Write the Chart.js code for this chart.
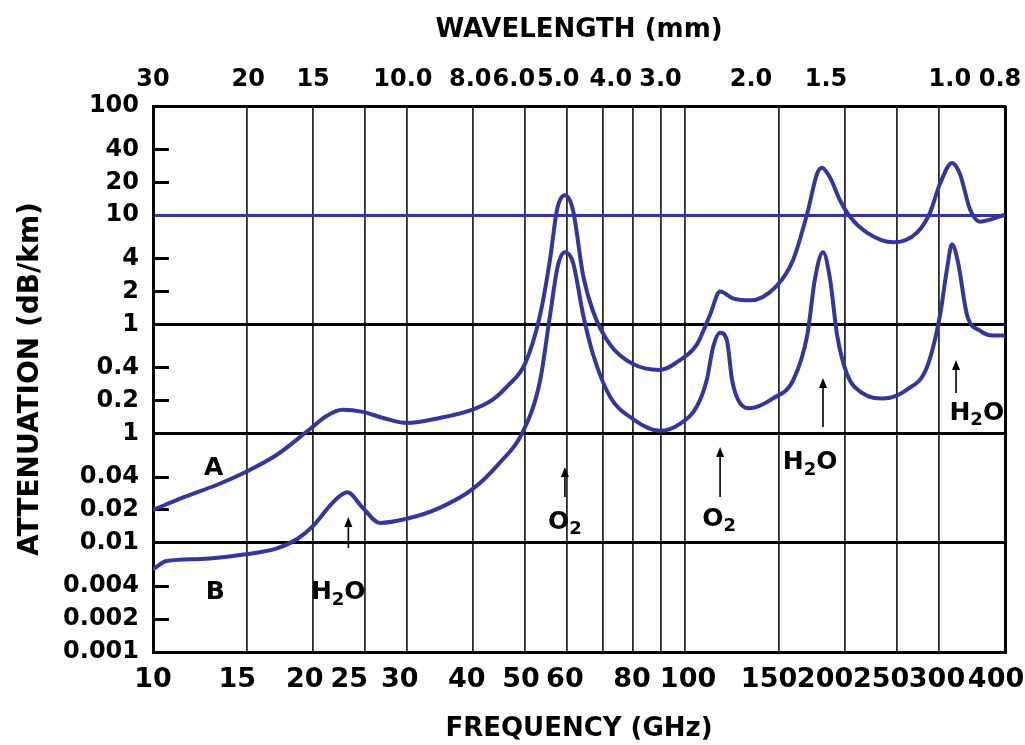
<!DOCTYPE html>
<html>
<head>
<meta charset="utf-8">
<title>Atmospheric attenuation</title>
<script src="https://cdn.jsdelivr.net/npm/chart.js@4.4.1/dist/chart.umd.min.js"></script>
<style>
  html, body { margin: 0; padding: 0; background: #fff; }
  canvas { display: block; }
</style>
</head>
<body>
<canvas id="attChart" width="1025" height="745"></canvas>
<script>
// Curve A (upper) and curve B (lower), frequency in GHz, attenuation in dB/km
const aFreq = [10, 11.4, 13.2, 15.0, 17.1, 19.5, 21.2, 22.7, 24.8, 27.1,
    30.0, 34.6, 40.0, 43.6, 46.3, 50.1, 53.4, 55.8, 57.5, 59.5,
    61.6, 64.4, 67.2, 72.3, 79.9, 89.8, 97.9, 105.4, 111.5, 116.5,
    123.2, 132.6, 149, 160, 170, 177.3, 181.1, 187.5, 195.8, 204.5,
    220, 246.4, 273.3, 289, 302, 318, 329, 344, 359, 375, 400];
const aVal = [0.020, 0.026, 0.034, 0.045, 0.064, 0.105, 0.145, 0.165, 0.158, 0.139,
    0.125, 0.139, 0.167, 0.206, 0.269, 0.44, 1.2, 3.96, 11.2, 15.2,
    11.2, 2.79, 1.32, 0.656, 0.433, 0.383, 0.471, 0.656, 1.22, 2.0,
    1.73, 1.66, 2.27, 3.96, 10.5, 24.0, 27.2, 22.1, 13.7, 9.66,
    6.93, 5.64, 6.93, 10.5, 19.5, 30.1, 24.0, 11.2, 8.71, 9.1, 10.1];

const bFreq = [10, 10.6, 12.3, 14.8, 17.1, 18.7, 20.0, 21.5, 22.5, 23.2,
    24.8, 26.7, 30.0, 34.6, 40.0, 44.9, 49.4, 53.4, 55.8, 57.7,
    59.5, 61.6, 64.4, 67.2, 72.3, 79.9, 89.8, 97.9, 105.4, 110,
    113, 116.5, 120, 122.7, 127, 132.6, 146.5, 160, 170, 175.7,
    181.9, 187.5, 193.3, 201.8, 216.3, 235.9, 261.7, 285.4, 302, 311.2,
    318, 326.3, 339.4, 359, 379.7, 400];
const bVal = [0.0057, 0.0068, 0.0071, 0.0078, 0.0089, 0.0109, 0.0143, 0.0218, 0.027, 0.029,
    0.0209, 0.0152, 0.0166, 0.0209, 0.0313, 0.0542, 0.1, 0.30, 1.22, 3.43,
    4.58, 3.72, 1.22, 0.533, 0.219, 0.136, 0.106, 0.123, 0.178, 0.311,
    0.617, 0.84, 0.713, 0.311, 0.19, 0.171, 0.210, 0.311, 0.806, 2.62,
    4.58, 2.62, 0.806, 0.352, 0.233, 0.210, 0.253, 0.407, 1.22, 3.23,
    5.41, 3.72, 1.22, 0.876, 0.79, 0.79];

// Axis ticks
const xGridFreqs = [10, 15, 20, 25, 30, 40, 50, 60, 70, 80, 90, 100, 150, 200, 250, 300, 400];
const xTickLabels = ['10', '15', '20', '25', '30', '40', '50', '60', '80', '100', '150', '200', '250', '300', '400'];
const xLabelFreqs = [10, 14.4, 19.3, 23.4, 29.1, 38.9, 49.2, 59.5, 79.6, 101.4, 144, 183.5, 233.9, 298, 384.8];
const yTickValues = [0.001, 0.002, 0.004, 0.01, 0.02, 0.04, 0.1, 0.2, 0.4, 1, 2, 4, 10, 20, 40, 100];
const yTickLabels = ['0.001', '0.002', '0.004', '0.01', '0.02', '0.04', '1', '0.2', '0.4', '1', '2', '4', '10', '20', '40', '100'];
const wavelengthLabels = ['30', '20', '15', '10.0', '8.0', '6.0', '5.0', '4.0', '3.0', '2.0', '1.5', '1.0', '0.8'];
const wavelengthFreqs = [10, 15.1, 20.0, 29.5, 39.5, 47.7, 57.8, 72.6, 90.0, 133.2, 184.3, 315, 391.5];

// Labels and arrows on the plot
const noteText = ['A', 'B', 'H₂O', 'O₂', 'O₂', 'H₂O', 'H₂O'];
const noteFreq = [13.0, 13.1, 22.3, 59.5, 116, 172, 354];
const noteVal = [0.0484, 0.00347, 0.00347, 0.0155, 0.0165, 0.0538, 0.154];
const arrowFreq = [23.3, 59.5, 116.5, 181.9, 323.6];
const arrowFrom = [0.00896, 0.0263, 0.0263, 0.115, 0.235];
const arrowTo = [0.0172, 0.0494, 0.0754, 0.323, 0.472];

const blue = '#34359e';
const majorY = [100, 1, 0.1, 0.01, 0.001];

Chart.defaults.font.family = '"DejaVu Sans", sans-serif';
Chart.defaults.font.weight = 'bold';
Chart.defaults.color = '#000';

const bigFont = 'bold 25px "DejaVu Sans"';
const subFont = 'bold 18px "DejaVu Sans"';

// draw a formula like H₂O with a real lowered subscript
function drawFormula(ctx, text, cx, cy) {
    const parts = [...text].map(ch => ch === '₂' ? { t: '2', sub: true } : { t: ch, sub: false });
    let total = 0;
    parts.forEach(p => {
        ctx.font = p.sub ? subFont : bigFont;
        p.w = ctx.measureText(p.t).width;
        total += p.w;
    });
    let x = cx - total / 2;
    parts.forEach(p => {
        ctx.font = p.sub ? subFont : bigFont;
        ctx.fillText(p.t, x, p.sub ? cy + 7 : cy);
        x += p.w;
    });
}

const notesPlugin = {
    id: 'notes',
    afterDatasetsDraw(chart) {
        const { ctx, scales } = chart;
        const x = scales.x, y = scales.y;
        ctx.save();
        ctx.fillStyle = '#000';
        ctx.strokeStyle = '#000';
        ctx.textAlign = 'left';
        ctx.textBaseline = 'middle';
        noteText.forEach((t, i) => {
            drawFormula(ctx, t, x.getPixelForValue(noteFreq[i]), y.getPixelForValue(noteVal[i]));
        });
        ctx.lineWidth = 1.6;
        arrowFreq.forEach((f, i) => {
            const px = x.getPixelForValue(f);
            const y0 = y.getPixelForValue(arrowFrom[i]);
            const y1 = y.getPixelForValue(arrowTo[i]);
            ctx.beginPath();
            ctx.moveTo(px, y0);
            ctx.lineTo(px, y1 + 6);
            ctx.stroke();
            ctx.beginPath();
            ctx.moveTo(px, y1);
            ctx.lineTo(px - 4, y1 + 10);
            ctx.lineTo(px + 4, y1 + 10);
            ctx.closePath();
            ctx.fill();
        });
        ctx.restore();
    }
};

const toPoints = (fs, vs) => fs.map((f, i) => ({ x: f, y: vs[i] }));

// keep the plot frame fixed: no extra room for overhanging tick labels
const noSidePadding = axis => { axis.paddingLeft = 0; axis.paddingRight = 0; };

new Chart(document.getElementById('attChart'), {
    type: 'line',
    data: {
        datasets: [{
            label: 'A',
            data: toPoints(aFreq, aVal),
            borderColor: blue,
            borderWidth: 4,
            pointRadius: 0,
            cubicInterpolationMode: 'monotone',
            fill: false
        }, {
            label: 'B',
            data: toPoints(bFreq, bVal),
            borderColor: blue,
            borderWidth: 4,
            pointRadius: 0,
            cubicInterpolationMode: 'monotone',
            fill: false
        }]
    },
    options: {
        responsive: false,
        animation: false,
        devicePixelRatio: 1,
        layout: { padding: { right: 20 } },
        plugins: {
            legend: { display: false },
            tooltip: { enabled: false }
        },
        scales: {
            x: {
                type: 'logarithmic',
                position: 'bottom',
                min: 10,
                max: 400,
                weight: 0,
                afterBuildTicks: axis => { axis.ticks = xGridFreqs.map(v => ({ value: v })); },
                afterFit: axis => { axis.height = 0; noSidePadding(axis); },
                ticks: { display: false },
                grid: {
                    drawTicks: false,
                    color: ctx => (ctx.tick.value === 10 || ctx.tick.value === 400) ? '#000' : '#2a2a2a',
                    lineWidth: ctx => (ctx.tick.value === 10 || ctx.tick.value === 400) ? 3 : 1.8
                },
                border: { display: true, color: '#000', width: 3 }
            },
            xLabels: {
                type: 'logarithmic',
                position: 'bottom',
                min: 10,
                max: 400,
                weight: 1,
                afterBuildTicks: axis => { axis.ticks = xLabelFreqs.map(v => ({ value: v })); },
                afterFit: axis => { axis.height = 93; noSidePadding(axis); },
                ticks: {
                    autoSkip: false,
                    maxRotation: 0,
                    padding: 12,
                    font: { size: 27, weight: 'bold' },
                    callback: (v, i) => xTickLabels[i]
                },
                grid: { display: false, drawTicks: false },
                border: { display: false },
                title: {
                    display: true,
                    text: 'FREQUENCY (GHz)',
                    font: { size: 26, weight: 'bold' },
                    padding: { top: 0, bottom: 0 }
                }
            },
            x2: {
                type: 'logarithmic',
                position: 'top',
                min: 10,
                max: 400,
                afterBuildTicks: axis => { axis.ticks = wavelengthFreqs.map(v => ({ value: v })); },
                afterFit: axis => { axis.height = 106; noSidePadding(axis); },
                ticks: {
                    autoSkip: false,
                    maxRotation: 0,
                    padding: 12,
                    font: { size: 24, weight: 'bold' },
                    callback: (v, i) => wavelengthLabels[i]
                },
                grid: { display: false, drawTicks: false },
                border: { display: true, color: '#000', width: 3 },
                title: {
                    display: true,
                    text: 'WAVELENGTH (mm)',
                    font: { size: 26, weight: 'bold' },
                    padding: { top: 15, bottom: 0 }
                }
            },
            y: {
                type: 'logarithmic',
                position: 'left',
                min: 0.001,
                max: 100,
                afterBuildTicks: axis => { axis.ticks = yTickValues.map(v => ({ value: v })); },
                afterFit: axis => { axis.width = 153; },
                ticks: {
                    autoSkip: false,
                    padding: 30,
                    font: { size: 24, weight: 'bold' },
                    callback: (v, i) => yTickLabels[i]
                },
                grid: {
                    drawTicks: true,
                    tickLength: -16,
                    tickWidth: 3,
                    tickColor: ctx => ctx.tick.value === 10 ? blue : '#000',
                    color: ctx => {
                        if (ctx.tick.value === 10) return blue;
                        return majorY.includes(ctx.tick.value) ? '#000' : 'rgba(0,0,0,0)';
                    },
                    lineWidth: 3
                },
                border: { display: true, color: '#000', width: 3 },
                title: {
                    display: true,
                    text: 'ATTENUATION (dB/km)',
                    font: { size: 28, weight: 'bold' },
                    padding: { top: 14, bottom: 0 }
                }
            }
        }
    },
    plugins: [notesPlugin]
});
</script>
</body>
</html>
